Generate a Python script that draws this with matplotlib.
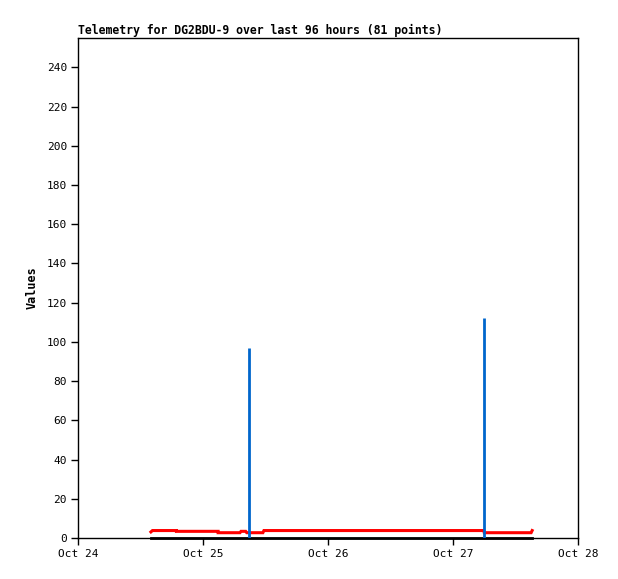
import matplotlib
matplotlib.use("Agg")
import matplotlib.pyplot as plt

# hours since Oct 24 00:00
red_t = [14.0, 14.3, 18.9, 18.9, 26.9, 26.9, 31.1, 31.3, 32.2, 32.4, 35.5, 35.7, 77.9, 78.0, 87.0, 87.2]
red_v = [3.1, 3.8, 3.8, 3.4, 3.4, 2.7, 2.7, 3.4, 3.4, 2.7, 2.7, 3.8, 3.8, 2.7, 2.7, 3.8]

black_t = [14.0, 87.2]
black_v = [0.0, 0.0]

blue_t = [32.8, 77.9]
blue_v = [97, 112]

xticks = [0, 24, 48, 72, 96]
xlabels = ["Oct 24", "Oct 25", "Oct 26", "Oct 27", "Oct 28"]
yticks = list(range(0, 241, 20))

plt.rcParams['font.family'] = ['DejaVu Sans Mono']

fig = plt.figure(figsize=(6.18, 5.79), dpi=100)
ax = fig.add_axes([78/618, 41/579, 500/618, 500/579])

ax.plot(red_t, red_v, color='#ff0000', lw=2.2, zorder=2, solid_joinstyle='miter')
ax.plot(black_t, black_v, color='black', lw=2, zorder=3, clip_on=False)
ax.vlines(blue_t, 0, blue_v, color='#0066cc', lw=2, zorder=4)

ax.set_xlim(0, 96)
ax.set_ylim(0, 255)
ax.set_xticks(xticks)
ax.set_xticklabels(xlabels)
ax.set_yticks(yticks)
ax.tick_params(direction='out', length=5, width=1, labelsize=8, pad=3)
for s in ax.spines.values():
    s.set_linewidth(1)

ax.set_ylabel("Values", fontsize=8.5, fontweight='bold', labelpad=6)
ax.set_title("Telemetry for DG2BDU-9 over last 96 hours (81 points)",
             loc='left', fontsize=8.3, fontweight='bold', pad=3)

fig.savefig("out.png", dpi=100)
